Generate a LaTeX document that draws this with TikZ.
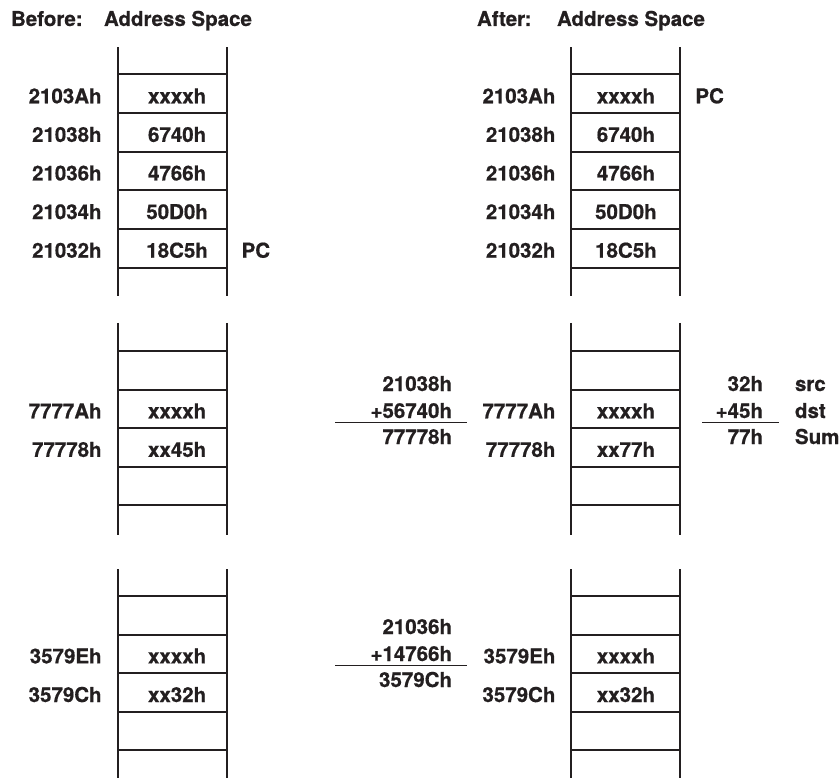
\documentclass[tikz,border=0pt]{standalone}
\usepackage{fontspec}
\setmainfont{TeX Gyre Heros}[BoldFeatures={FakeBold=0.6}]
\usetikzlibrary{positioning}
\definecolor{ink}{RGB}{35,31,32}

\begin{document}
\begin{tikzpicture}[
    x=1pt,
    y=-1pt,
    node distance=0pt,
    every node/.style={
        font=\bfseries\fontsize{20.5}{24}\selectfont,
        text=ink,
        inner sep=0pt,
        outer sep=0pt,
        text height=19pt,
        text depth=0pt
    },
    cell/.style={
        rectangle,
        draw=ink,
        line width=2pt,
        minimum width=109pt,
        minimum height=38.6pt
    },
    lcell/.style={
        cell,
        execute at begin node={\hspace*{10pt}}
    },
    rail/.style={
        draw=ink,
        line width=2pt
    },
    sumline/.style={
        draw=ink,
        line width=1.2pt
    }
]

\useasboundingbox (0,0) rectangle (840,778);

\node[anchor=base west] (before) at (11,26) {Before:};
\node[anchor=base west] (bspace) at (104,26) {Address Space};
\node[anchor=base west] (after) at (477,26) {After:};
\node[anchor=base west] (aspace) at (557,26) {Address Space};

\node[lcell] (b1) at (172.1,93.8) {xxxxh};
\node[lcell, below=of b1] (b2) {6740h};
\node[lcell, below=of b2] (b3) {4766h};
\node[lcell, below=of b3] (b4) {50D0h};
\node[lcell, below=of b4] (b5) {18C5h};
\node[left=16pt of b1] (b1a) {2103Ah};
\node[left=16pt of b2] (b2a) {21038h};
\node[left=16pt of b3] (b3a) {21036h};
\node[left=16pt of b4] (b4a) {21034h};
\node[left=16pt of b5] (b5a) {21032h};
\node[right=15pt of b5] (bpc) {PC};
\draw[rail] ([yshift=27pt]b1.north west) -- ([yshift=-28pt]b5.south west);
\draw[rail] ([yshift=27pt]b1.north east) -- ([yshift=-28pt]b5.south east);

\node[lcell] (bm1) at (172.1,370.2) {};
\node[lcell, below=of bm1] (bm2) {xxxxh};
\node[lcell, below=of bm2] (bm3) {xx45h};
\node[lcell, below=of bm3] (bm4) {};
\node[left=16pt of bm2] (bm2a) {7777Ah};
\node[left=16pt of bm3] (bm3a) {77778h};
\draw[rail] ([yshift=28pt]bm1.north west) -- ([yshift=-30pt]bm4.south west);
\draw[rail] ([yshift=28pt]bm1.north east) -- ([yshift=-30pt]bm4.south east);

\node[lcell] (bl1) at (172.1,615.3) {};
\node[lcell, below=of bl1] (bl2) {xxxxh};
\node[lcell, below=of bl2] (bl3) {xx32h};
\node[lcell, below=of bl3] (bl4) {};
\node[left=16pt of bl2] (bl2a) {3579Eh};
\node[left=16pt of bl3] (bl3a) {3579Ch};
\draw[rail] ([yshift=27pt]bl1.north west) -- ([yshift=-30pt]bl4.south west);
\draw[rail] ([yshift=27pt]bl1.north east) -- ([yshift=-30pt]bl4.south east);

\node[cell] (a1) at (625.9,93.8) {xxxxh};
\node[cell, below=of a1] (a2) {6740h};
\node[cell, below=of a2] (a3) {4766h};
\node[cell, below=of a3] (a4) {50D0h};
\node[cell, below=of a4] (a5) {18C5h};
\node[left=16pt of a1] (a1a) {2103Ah};
\node[left=16pt of a2] (a2a) {21038h};
\node[left=16pt of a3] (a3a) {21036h};
\node[left=16pt of a4] (a4a) {21034h};
\node[left=16pt of a5] (a5a) {21032h};
\node[right=15pt of a1] (apc) {PC};
\draw[rail] ([yshift=27pt]a1.north west) -- ([yshift=-28pt]a5.south west);
\draw[rail] ([yshift=27pt]a1.north east) -- ([yshift=-28pt]a5.south east);

\node[cell] (am1) at (625.9,370.2) {};
\node[cell, below=of am1] (am2) {xxxxh};
\node[cell, below=of am2] (am3) {xx77h};
\node[cell, below=of am3] (am4) {};
\node[left=16pt of am2] (am2a) {7777Ah};
\node[left=16pt of am3] (am3a) {77778h};
\draw[rail] ([yshift=28pt]am1.north west) -- ([yshift=-30pt]am4.south west);
\draw[rail] ([yshift=28pt]am1.north east) -- ([yshift=-30pt]am4.south east);

\node[cell] (al1) at (625.9,615.3) {};
\node[cell, below=of al1] (al2) {xxxxh};
\node[cell, below=of al2] (al3) {xx32h};
\node[cell, below=of al3] (al4) {};
\node[left=16pt of al2] (al2a) {3579Eh};
\node[left=16pt of al3] (al3a) {3579Ch};
\draw[rail] ([yshift=27pt]al1.north west) -- ([yshift=-30pt]al4.south west);
\draw[rail] ([yshift=27pt]al1.north east) -- ([yshift=-30pt]al4.south east);

\node[anchor=base east] (m1) at (452,391) {21038h};
\node[anchor=base east] (m2) at (452,418) {+56740h};
\node[anchor=base east] (m3) at (452,444) {77778h};
\draw[sumline] (335,422.5) -- (467,422.5);

\node[anchor=base east] (l1) at (452,634) {21036h};
\node[anchor=base east] (l2) at (452,661) {+14766h};
\node[anchor=base east] (l3) at (452,687) {3579Ch};
\draw[sumline] (335,665.5) -- (467,665.5);

\node[anchor=base east] (r1) at (763,391) {32h};
\node[anchor=base east] (r2) at (763,418) {+45h};
\node[anchor=base east] (r3) at (763,444) {77h};
\draw[sumline] (702,422.5) -- (779,422.5);
\node[anchor=base west] (src) at (795,391) {src};
\node[anchor=base west] (dst) at (795,418) {dst};
\node[anchor=base west] (sum) at (795,444) {Sum};

\end{tikzpicture}
\end{document}
